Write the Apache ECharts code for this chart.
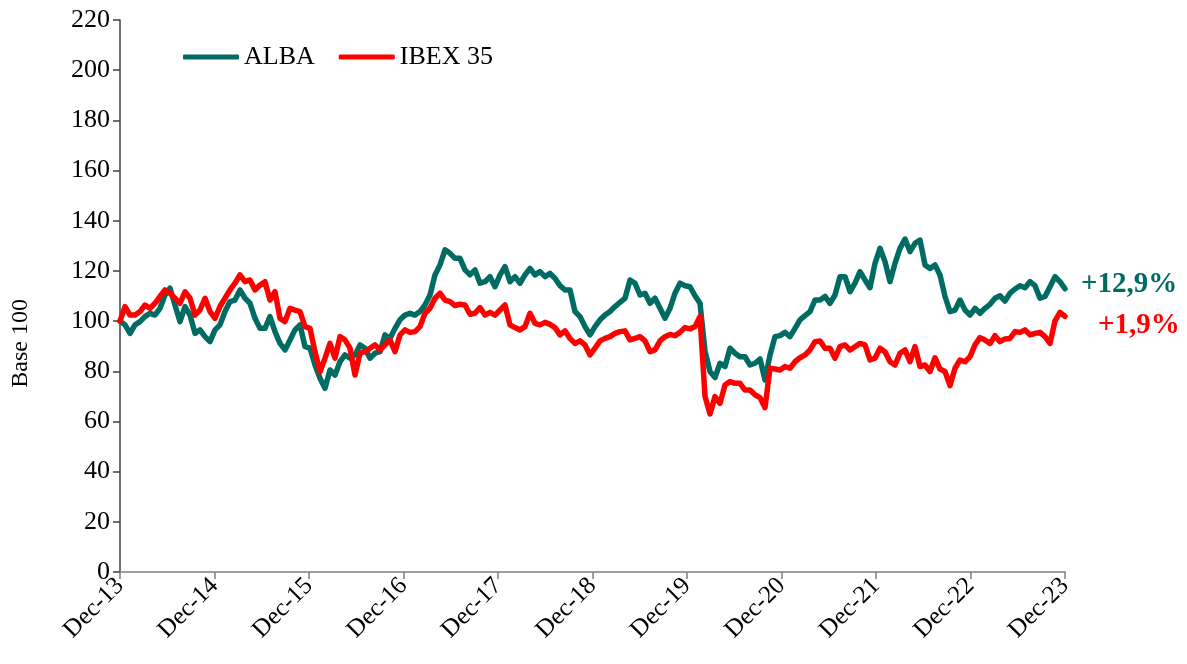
<!DOCTYPE html>
<html>
<head>
<meta charset="utf-8">
<title>ALBA vs IBEX 35</title>
<script src="https://cdn.jsdelivr.net/npm/echarts@6/dist/echarts.min.js"></script>
<style>
	html, body { margin: 0; padding: 0; background: #fff; }
	#chart { width: 1187px; height: 664px; }
</style>
</head>
<body>
<div id="chart"></div>
<script>
// base 100, Dec-13 = 100
var yearLabels = ['Dec-13', 'Dec-14', 'Dec-15', 'Dec-16', 'Dec-17', 'Dec-18', 'Dec-19', 'Dec-20', 'Dec-21', 'Dec-22', 'Dec-23'];
var yTicks = [0, 20, 40, 60, 80, 100, 120, 140, 160, 180, 200, 220];

var alba = [
	100, 98.5, 95.1, 98.5, 99.8, 101.8, 103.1, 102.4, 105.1, 110.4, 113.1, 106.4, 99.8, 105.8, 102.4, 95.1, 96.5, 93.8, 91.8, 96.5, 98.5, 103.8, 107.8, 108.4, 112.4, 109.1, 107.1, 101.1, 97.1, 97.1, 101.8, 95.8, 91.1, 88.5, 92.5, 96.5, 98.5, 89.8,
	89.2, 82.5, 77.2, 73.2, 80.5, 78.5, 83.8, 86.5, 85.2, 86.5, 90.5, 89.2, 85.2, 87.2, 87.8, 94.5, 93.1, 97.1, 100.5, 102.4, 103.1, 102.4, 103.8, 106.4, 110.4, 118.4, 122.4, 128.4, 127.0, 125.0, 125.0, 120.4, 118.4, 120.4, 115.1, 115.7, 117.7, 113.7,
	118.4, 121.7, 115.7, 117.7, 115.1, 118.4, 121.0, 118.4, 119.7, 117.7, 119.0, 117.1, 114.1, 112.4, 112.4, 103.8, 101.8, 97.8, 94.5, 97.8, 100.5, 102.4, 103.8, 105.8, 107.5, 109.1, 116.4, 115.1, 110.4, 111.1, 107.1, 109.1, 105.1, 101.1, 105.1, 111.1, 115.1, 114.1,
	113.7, 110.1, 107.1, 88.0, 79.9, 77.5, 83.2, 81.9, 89.2, 87.2, 85.8, 85.8, 82.5, 83.2, 84.9, 76.5, 86.5, 93.8, 94.2, 95.5, 93.8, 97.1, 100.5, 102.2, 103.8, 108.4, 108.4, 109.8, 107.1, 110.4, 117.7, 117.7, 111.7, 115.1, 119.7, 116.4, 113.3, 123.0,
	129.0, 123.7, 115.7, 123.0, 129.0, 132.7, 127.7, 131.0, 132.3, 122.4, 121.0, 122.4, 118.4, 109.8, 103.8, 104.4, 108.4, 104.4, 102.4, 105.1, 103.1, 105.1, 106.7, 109.1, 110.1, 108.0, 111.1, 112.8, 114.1, 113.3, 115.7, 114.1, 109.1, 109.8, 113.7, 117.7, 115.7, 112.9
];

var ibex = [
	100, 105.8, 102.4, 102.4, 103.8, 106.4, 105.1, 107.1, 109.8, 112.4, 111.1, 109.1, 107.1, 111.7, 109.1, 102.4, 104.4, 109.1, 103.8, 101.1, 105.8, 109.1, 112.4, 115.1, 118.4, 115.7, 116.4, 112.4, 114.4, 115.7, 108.4, 111.7, 101.1, 99.8, 105.1, 104.4, 103.8, 97.8,
	97.1, 87.8, 79.8, 85.2, 91.1, 85.2, 93.8, 92.5, 89.2, 78.5, 87.2, 87.8, 89.2, 90.5, 88.5, 90.5, 92.5, 87.8, 94.5, 96.5, 95.5, 95.8, 97.8, 103.1, 105.1, 109.1, 111.1, 108.4, 107.8, 106.2, 106.7, 106.4, 102.7, 103.1, 105.4, 102.4, 103.5, 102.4,
	104.4, 106.4, 98.5, 97.4, 96.5, 97.8, 103.1, 99.1, 98.5, 99.5, 98.7, 97.4, 94.5, 96.1, 93.1, 91.1, 92.1, 90.5, 86.5, 89.2, 92.1, 93.1, 93.8, 95.1, 95.8, 96.1, 92.5, 93.1, 93.8, 92.1, 87.8, 88.5, 92.1, 93.8, 94.7, 94.2, 95.5, 97.4,
	96.9, 97.8, 101.8, 70.0, 63.0, 69.9, 67.2, 74.5, 75.9, 75.2, 75.2, 72.5, 72.5, 70.6, 69.5, 65.5, 81.2, 80.9, 80.5, 81.9, 81.2, 83.8, 85.4, 86.5, 88.5, 91.8, 92.1, 89.2, 89.2, 85.2, 89.8, 90.5, 88.5, 89.8, 91.1, 90.5, 84.5, 85.2,
	89.2, 87.8, 83.8, 82.5, 87.2, 88.5, 83.8, 89.8, 81.9, 82.5, 79.9, 85.4, 80.9, 79.9, 74.3, 81.2, 84.5, 83.8, 85.8, 90.5, 93.4, 92.5, 91.1, 94.2, 91.8, 92.9, 93.1, 95.8, 95.5, 96.5, 94.5, 95.1, 95.5, 93.8, 91.1, 100.1, 103.5, 101.9
];

var albaColor = '#006B63';
var ibexColor = '#FF0000';
var font = '"Liberation Serif", "Times New Roman", serif';

// points are evenly spaced from Dec-13 to Dec-23
function toPairs(arr) {
	var out = [];
	var step = (yearLabels.length - 1) / (arr.length - 1);
	arr.forEach(function (v, i) {
		out.push([i * step, v]);
	});
	return out;
}

var chart = echarts.init(document.getElementById('chart'));

var option = {
	animation: false,
	backgroundColor: '#fff',
	textStyle: { fontFamily: font },
	grid: { left: 120, right: 122, top: 20, bottom: 92 },
	legend: {
		left: 178,
		top: 39,
		icon: 'roundRect',
		itemWidth: 56,
		itemHeight: 5,
		itemGap: 24,
		textStyle: { fontFamily: font, fontSize: 26, color: '#000' },
		data: ['ALBA', 'IBEX 35']
	},
	xAxis: {
		type: 'value',
		min: 0,
		max: yearLabels.length - 1,
		interval: 1,
		splitLine: { show: false },
		axisLine: { lineStyle: { color: '#7f7f7f', width: 1.5 } },
		axisTick: { show: true, length: 7, lineStyle: { color: '#7f7f7f', width: 1.5 } },
		axisLabel: {
			rotate: 45,
			margin: 10,
			fontFamily: font,
			fontSize: 25,
			color: '#000',
			formatter: function (v) { return yearLabels[Math.round(v)] || ''; }
		}
	},
	yAxis: {
		type: 'value',
		min: yTicks[0],
		max: yTicks[yTicks.length - 1],
		interval: 20,
		splitLine: { show: false },
		axisLine: { show: true, lineStyle: { color: '#404040', width: 1.5 } },
		axisTick: { show: true, length: 7, lineStyle: { color: '#404040', width: 1.5 } },
		axisLabel: { margin: 10, fontFamily: font, fontSize: 26, color: '#000' }
	},
	graphic: [{
		type: 'text',
		left: 9,
		top: 299,
		rotation: Math.PI / 2,
		style: {
			text: 'Base 100',
			fontFamily: font,
			fontSize: 24,
			fill: '#000'
		}
	}],
	series: [{
		name: 'ALBA',
		type: 'line',
		data: toPairs(alba),
		showSymbol: false,
		symbol: 'none',
		color: albaColor,
		lineStyle: { width: 5.5, color: albaColor, join: 'round', cap: 'round' },
		endLabel: {
			show: true,
			formatter: '+12,9%',
			offset: [8, -4],
			fontFamily: font,
			fontSize: 29,
			fontWeight: 'bold',
			color: albaColor
		}
	}, {
		name: 'IBEX 35',
		type: 'line',
		data: toPairs(ibex),
		showSymbol: false,
		symbol: 'none',
		color: ibexColor,
		lineStyle: { width: 5.5, color: ibexColor, join: 'round', cap: 'round' },
		endLabel: {
			show: true,
			formatter: '+1,9%',
			offset: [25, 9],
			fontFamily: font,
			fontSize: 29,
			fontWeight: 'bold',
			color: ibexColor
		}
	}]
};
chart.setOption(option, true);
</script>
</body>
</html>
